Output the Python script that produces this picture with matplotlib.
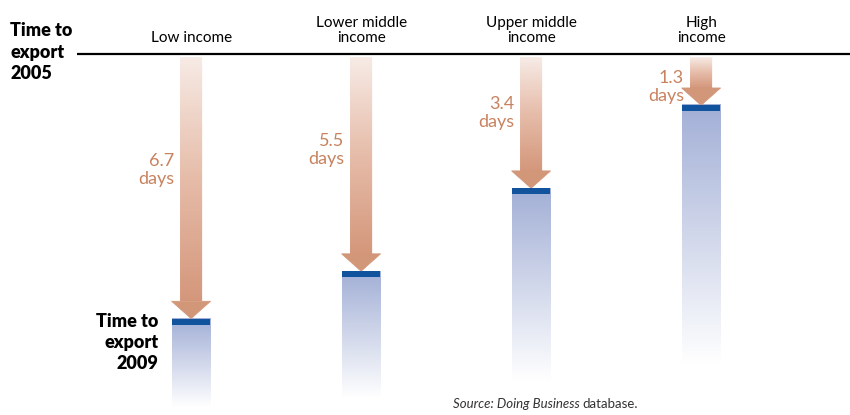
import numpy as np
import matplotlib.pyplot as plt
from matplotlib.colors import LinearSegmentedColormap
from matplotlib.path import Path
from matplotlib.patches import PathPatch, Rectangle

# income groups and reduction in time to export, 2005 -> 2009 (days)
groups = ["Low income", "Lower middle\nincome", "Upper middle\nincome", "High\nincome"]
days_saved = [6.7, 5.5, 3.4, 1.3]
day_labels = ["6.7\ndays", "5.5\ndays", "3.4\ndays", "1.3\ndays"]

plt.rcParams['font.family'] = ['Lato', 'DejaVu Sans']

fig = plt.figure(figsize=(8.5, 4.15), dpi=100)
ax = fig.add_axes([0, 0, 1, 1])
ax.set_xlim(-1.124, 3.876)
ax.set_ylim(9.14, -1.367)
ax.axis('off')

bar_cmap = LinearSegmentedColormap.from_list('bar', ['#a2afd6', '#ffffff'])
arrow_cmap = LinearSegmentedColormap.from_list('arr', ['#f7ebe6', '#e6bca9', '#d4977b'])
head_color = '#d29679'
cap_color = '#12539d'
text_color = '#c8825f'

bar_w = 0.225
shaft_w = 0.13
head_w = 0.23
head_len = 0.44
grad = np.linspace(0, 1, 256).reshape(-1, 1)

# 2005 baseline
ax.plot([-0.67, 3.876], [0, 0], color='black', lw=1.6, solid_capstyle='butt')

for i, (g, v, lab) in enumerate(zip(groups, days_saved, day_labels)):
    # faded bar below the 2009 level
    bottom = 7.6 + 0.2 * v
    ax.imshow(grad, cmap=bar_cmap, aspect='auto', interpolation='bicubic',
              extent=(i - bar_w / 2, i + bar_w / 2, bottom, v), zorder=1)
    ax.add_patch(Rectangle((i - bar_w / 2, v), bar_w, 0.15, color=cap_color, lw=0, zorder=3))

    # arrow from 2005 line down to 2009 level
    y0 = 0.08
    yh = v - head_len
    verts = [(i - shaft_w / 2, y0), (i + shaft_w / 2, y0), (i + shaft_w / 2, yh),
             (i + head_w / 2, yh), (i, v), (i - head_w / 2, yh), (i - shaft_w / 2, yh),
             (i - shaft_w / 2, y0)]
    patch = PathPatch(Path(verts, closed=True), facecolor='none', edgecolor='none')
    ax.add_patch(patch)
    im = ax.imshow(grad, cmap=arrow_cmap, aspect='auto', interpolation='bicubic',
                   extent=(i - head_w / 2, i + head_w / 2, yh, y0), zorder=2)
    im.set_clip_path(patch)
    head = Path([(i - head_w / 2, yh), (i + head_w / 2, yh), (i, v), (i - head_w / 2, yh)], closed=True)
    ax.add_patch(PathPatch(head, facecolor=head_color, edgecolor=head_color, lw=0.5, zorder=2))

    ax.text(i - 0.1, max(0.44 * v, 0.84), lab, ha='right', va='center', fontsize=13,
            color=text_color, linespacing=1.15)
    ax.text(i, -0.22, g, ha='center', va='bottom', fontsize=11, linespacing=1.15)

ax.text(-1.065, -0.05, "Time to\nexport\n2005", ha='left', va='center', fontsize=13,
        fontweight='heavy', linespacing=1.3)
ax.text(-0.19, 7.3, "Time to\nexport\n2009", ha='right', va='center', fontsize=13,
        fontweight='heavy', linespacing=1.3)

src = ax.text(1.54, 8.85, "Source: Doing Business", ha='left', va='center', fontsize=9.5,
              style='italic', color='#333333')
fig.canvas.draw()
bb = src.get_window_extent().transformed(ax.transData.inverted())
ax.text(bb.x1 + 0.015, 8.85, "database.", ha='left', va='center', fontsize=9.5, color='#333333')

fig.savefig('out.png', dpi=100)
